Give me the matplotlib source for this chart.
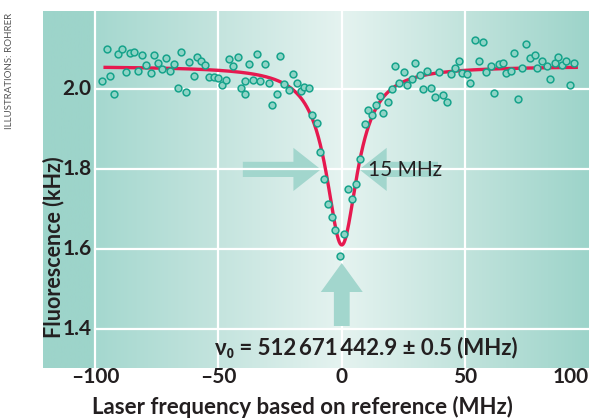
import numpy as np
import matplotlib.pyplot as plt
from matplotlib.patches import Polygon

plt.rcParams['font.family'] = ['Lato', 'DejaVu Sans']

# Scan points: laser detuning (MHz) and fluorescence rate (kHz)
freq = [-97.2, -95.3, -93.8, -92.2, -90.7, -89.1, -87.3, -85.7, -84.1, -82.6,
        -80.8, -79.4, -77.4, -76.0, -74.3, -72.7, -71.2, -69.6, -68.1, -66.4,
        -65.0, -63.2, -61.8, -60.0, -58.8, -57.2, -55.3, -53.8, -51.9, -50.1,
        -48.5, -46.8, -45.7, -43.9, -42.0, -40.9, -39.2, -39.1, -37.5, -36.1,
        -34.2, -33.0, -31.1, -29.3, -28.1, -26.2, -24.9, -23.4, -21.5, -19.6,
        -18.2, -16.5, -15.4, -13.1, -11.9, -10.0, -8.7, -7.2, -5.4, -3.8,
        -2.6, -0.6, 0.9, 2.4, 4.1, 5.7, 7.4, 9.3, 10.5, 12.3,
        13.9, 15.4, 16.9, 18.8, 20.4, 21.7, 23.2, 25.1, 26.6, 28.5,
        29.7, 31.7, 33.0, 34.7, 36.3, 37.9, 39.3, 40.9, 42.8, 44.2,
        45.9, 47.5, 48.6, 50.8, 52.1, 53.9, 55.5, 57.3, 58.5, 60.4,
        61.9, 63.8, 65.4, 66.7, 68.7, 69.8, 71.3, 73.1, 74.6, 76.3,
        78.2, 79.0, 81.3, 83.1, 84.3, 86.3, 87.7, 89.4, 90.8, 92.3,
        94.2]
fluor = [2.021, 2.099, 2.033, 1.988, 2.088, 2.099, 2.043, 2.089, 2.093, 2.045,
         2.085, 2.060, 2.040, 2.084, 2.065, 2.050, 2.077, 2.044, 2.063, 2.002,
         2.093, 1.993, 2.068, 2.033, 2.079, 2.069, 2.060, 2.030, 2.030, 2.028,
         2.009, 2.022, 2.074, 2.058, 2.081, 2.002, 2.019, 1.987, 2.063, 2.022,
         2.087, 2.020, 2.063, 2.015, 1.961, 1.988, 2.083, 2.012, 1.998, 2.038,
         2.014, 1.995, 2.006, 2.002, 1.936, 1.915, 1.842, 1.774, 1.712, 1.679,
         1.648, 1.583, 1.637, 1.749, 1.725, 1.763, 1.826, 1.913, 1.947, 1.936,
         1.959, 1.983, 1.940, 1.968, 2.000, 2.058, 2.014, 2.043, 2.011, 2.026,
         2.065, 2.035, 1.999, 2.046, 2.003, 1.981, 2.043, 1.986, 1.968, 2.037,
         2.053, 2.069, 2.040, 2.037, 2.014, 2.123, 2.071, 2.118, 2.043, 2.057,
         1.990, 2.062, 2.065, 2.040, 2.046, 2.089, 1.975, 2.053, 2.113, 2.077,
         2.084, 2.052, 2.070, 2.058, 2.025, 2.066, 2.081, 2.060, 2.071, 2.010,
         2.066]

# Lorentzian fit
fit_center = 0.0
fit_fwhm = 15.4
fit_base = 2.057
fit_min = 1.61
fit_span = (-96.6, 95.7)

xticks = [-100, -50, 0, 50, 100]
xtick_labels = ['\u2013100', '\u201350', '0', '50', '100']
yticks = [1.4, 1.6, 1.8, 2.0]
ytick_labels = ['1.4', '1.6', '1.8', '2.0']

xlim = (-121.1, 100.0)
ylim = (1.3025, 2.195)
text_col = '#231f20'
arrow_col = '#a2d6cd'

fig = plt.figure(figsize=(5.91, 4.2), dpi=100)
ax = fig.add_axes([43 / 591, 52 / 420, 545.5 / 591, 357 / 420])
ax.set_xlim(xlim)
ax.set_ylim(ylim)
ax.axis('off')

# teal -> white -> teal background gradient
bg_x = [-121.1, -100.5, -99.5, -50, 0, 50, 100]
bg_rgb = np.array([[157, 212, 202], [157, 212, 202], [165, 216, 207],
                   [196, 228, 222], [229, 243, 240], [193, 227, 220],
                   [157, 212, 202]]) / 255
xs = np.linspace(xlim[0], xlim[1], 800)
img = np.stack([np.interp(xs, bg_x, bg_rgb[:, i]) for i in range(3)], axis=-1)[None]
ax.imshow(img, extent=[*xlim, *ylim], aspect='auto', zorder=0)

# grid
for x in xticks[:-1]:
    ax.axvline(x, color='white', lw=1.6, zorder=1)
for y in yticks:
    ax.plot([-100, xlim[1]], [y, y], color='white', lw=1.6, zorder=3)

# width arrows and centre arrow
yc, sh, hh = 1.799, 0.019, 0.054
right_arrow = [(-40.1, yc - sh), (-19.6, yc - sh), (-19.6, yc - hh), (-8.5, yc),
               (-19.6, yc + hh), (-19.6, yc + sh), (-40.1, yc + sh)]
left_arrow = [(39.0, yc - sh), (18.2, yc - sh), (18.2, yc - hh), (7.1, yc),
              (18.2, yc + hh), (18.2, yc + sh), (39.0, yc + sh)]
up_arrow = [(-3.2, 1.4075), (-3.2, 1.4925), (-8.5, 1.4925), (0, 1.565),
            (8.5, 1.4925), (3.2, 1.4925), (3.2, 1.4075)]
for pts in (right_arrow, left_arrow, up_arrow):
    ax.add_patch(Polygon(pts, closed=True, color=arrow_col, lw=0, zorder=2))

# fit curve and data
xf = np.linspace(*fit_span, 500)
yf = fit_base - (fit_base - fit_min) / (1 + ((xf - fit_center) / (fit_fwhm / 2)) ** 2)
ax.plot(xf, yf, color='#e6194f', lw=2.4, zorder=4, solid_capstyle='butt')
ax.scatter(freq, fluor, s=24, facecolor='#8fd4c6', edgecolor='#16a38b',
           linewidth=1.1, zorder=5)

# labels inside the plot
ax.text(10.7, 1.7975, '15 MHz', fontsize=15, color=text_col, va='center', ha='left', zorder=6)
ax.text(9.9, 1.3525, '\u03bd\u2080 = 512\u2009671\u2009442.9 \u00b1 0.5 (MHz)', fontsize=16,
        fontweight='bold', color=text_col, ha='center', va='center', zorder=6)
for y, lab in zip(yticks, ytick_labels):
    ax.text(-101.5, y, lab, fontsize=15, fontweight='bold', color=text_col,
            ha='right', va='center', zorder=6)
ax.text(-117.0, 1.604, 'Fluorescence (kHz)', rotation=90, fontsize=15.5, fontweight='bold',
        color=text_col, ha='center', va='center', zorder=6)

# x tick labels below the panel
for x, lab in zip(xticks, xtick_labels):
    ha = 'right' if x == xticks[-1] else 'center'
    ax.text(x, 1.2795, lab, fontsize=15, fontweight='bold', color=text_col,
            ha=ha, va='center', clip_on=False)
fig.text(302 / 591, 1 - 407 / 420, 'Laser frequency based on reference (MHz)', fontsize=16,
         fontweight='bold', color=text_col, ha='center', va='center')

fig.text(10 / 591, 1 - 71 / 420, 'ILLUSTRATIONS: ROHRER', rotation=90, fontsize=7,
         color='#555555', ha='center', va='center')

fig.savefig('out.png', dpi=100)
